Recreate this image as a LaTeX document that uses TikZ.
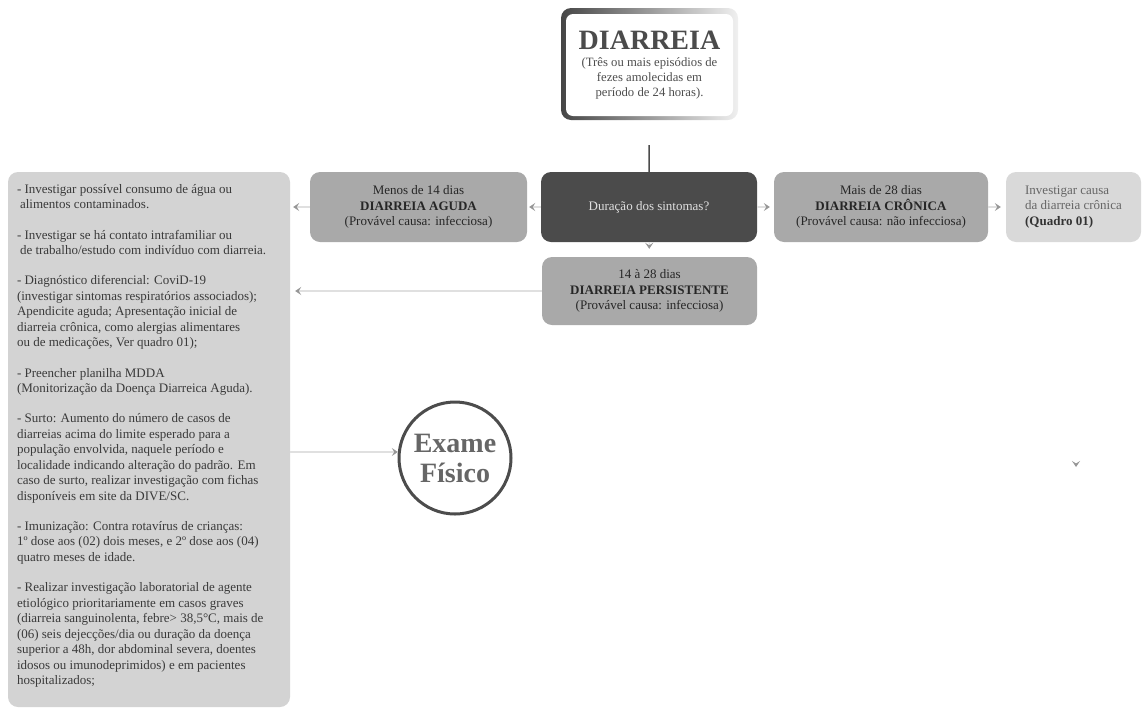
\documentclass[tikz,border=0pt]{standalone}
\usepackage{fontspec}
\setmainfont{Liberation Serif}
\usetikzlibrary{arrows.meta}

\definecolor{cinzaescuro}{HTML}{4B4B4B}
\definecolor{cinzamedio}{HTML}{A9A9A9}
\definecolor{cinzaclaro}{HTML}{D3D3D3}
\definecolor{cinzaquadro}{HTML}{D9D9D9}
\definecolor{cinzaseta}{HTML}{969696}
\definecolor{cinzalinha}{HTML}{E0E0E0}
\definecolor{cinzatexto}{HTML}{3A3A3A}

\begin{document}
\begin{tikzpicture}[x=1pt,y=-1pt,
	caixa/.style={rounded corners=10pt, minimum width=#1, minimum height=70pt, align=center, inner sep=2pt, font=\fontsize{13}{15.8}\selectfont},
	seta/.style={draw=cinzalinha, line width=1.3pt, -{Stealth[length=6pt, width=8pt, inset=2.5pt, color=cinzaseta]}}
]

	\useasboundingbox (0,0) rectangle (1142,710);

	\shade[left color=gray!55!black, right color=gray!12, rounded corners=10pt] (561,8) rectangle (738,120);
	\node[fill=white, rounded corners=7pt, minimum width=167pt, minimum height=102pt, align=center, text=cinzatexto!90, font=\fontsize{12.7}{14.8}\selectfont] (diarreia) at (649.5,65)
		{{\fontsize{28}{30}\selectfont\bfseries\color{cinzaescuro}DIARREIA}\\[3pt] (Três ou mais episódios de\\ fezes amolecidas em\\ período de 24 horas).};

	\node[caixa=216pt, fill=cinzaescuro, text=gray!25] (duracao) at (649,207) {Duração dos sintomas?};

	\node[caixa=217pt, fill=cinzamedio, text=black!85] (aguda) at (418.5,207)
		{Menos de 14 dias\\ \textbf{DIARREIA AGUDA}\\ (Provável causa: infecciosa)};

	\node[caixa=214pt, fill=cinzamedio, text=black!85] (cronica) at (881,207)
		{Mais de 28 dias\\ \textbf{DIARREIA CRÔNICA}\\ (Provável causa: não infecciosa)};

	\node[caixa=135pt, fill=cinzaquadro, text=black!60, align=left] (investigar) at (1073.5,207)
		{Investigar causa\\ da diarreia crônica\\ \textbf{\color{black!80}(Quadro 01)}};

	\node[caixa=215pt, minimum height=68pt, fill=cinzamedio, text=black!85] (persistente) at (649.5,291)
		{14 à 28 dias\\ \textbf{DIARREIA PERSISTENTE}\\ (Provável causa: infecciosa)};

	\node[fill=cinzaclaro, rounded corners=10pt, minimum width=282pt, minimum height=535pt, align=left, text=cinzatexto, font=\fontsize{13}{15.5}\selectfont] (orient) at (149,439.5)
		{\makebox[264pt][l]{- Investigar possível consumo de água ou}\\
		\hspace*{3pt}alimentos contaminados.\\[14.7pt]
		- Investigar se há contato intrafamiliar ou\\
		\hspace*{3pt}de trabalho/estudo com indivíduo com diarreia.\\[14.7pt]
		- Diagnóstico diferencial: CoviD-19\\
		(investigar sintomas respiratórios associados);\\
		Apendicite aguda; Apresentação inicial de\\
		diarreia crônica, como alergias alimentares\\
		ou de medicações, Ver quadro 01);\\[14.7pt]
		- Preencher planilha MDDA\\
		(Monitorização da Doença Diarreica Aguda).\\[14.7pt]
		- Surto: Aumento do número de casos de\\
		diarreias acima do limite esperado para a\\
		população envolvida, naquele período e\\
		localidade indicando alteração do padrão. Em\\
		caso de surto, realizar investigação com fichas\\
		disponíveis em site da DIVE/SC.\\[14.7pt]
		- Imunização: Contra rotavírus de crianças:\\
		1º dose aos (02) dois meses, e 2º dose aos (04)\\
		quatro meses de idade.\\[14.7pt]
		- Realizar investigação laboratorial de agente\\
		etiológico prioritariamente em casos graves\\
		(diarreia sanguinolenta, febre> 38,5°C, mais de\\
		(06) seis dejecções/dia ou duração da doença\\
		superior a 48h, dor abdominal severa, doentes\\
		idosos ou imunodeprimidos) e em pacientes\\
		hospitalizados;\rule[-10pt]{0pt}{10pt}};

	\node[circle, draw=gray!60!black, line width=3pt, fill=white, minimum size=112pt, align=center, text=cinzaescuro!85, font=\fontsize{28}{30}\selectfont\bfseries] (exame) at (455,458) {Exame\\ Físico};

	\coordinate (pontaA) at (1076,457);
	\coordinate (pontaB) at (1076,467);

	\draw[line width=1.5pt, draw=cinzaescuro, shorten <=29pt] (diarreia.south) -- (duracao.north);

	\draw[seta, shorten >=2pt] (duracao) -- (aguda);
	\draw[seta, shorten >=4pt] (duracao) -- (cronica);
	\draw[seta, shorten >=5pt] (cronica) -- (investigar);
	\draw[seta, shorten >=8pt] (duracao) -- (persistente);
	\draw[seta, shorten >=3pt] (aguda.west) -- (aguda.west -| orient.east);
	\draw[seta, shorten >=5pt] (persistente.west) -- (persistente.west -| orient.east);
	\draw[seta] (orient.east |- exame.174) -- (exame.174);
	\draw[seta, draw=white] (pontaA) -- (pontaB);

\end{tikzpicture}
\end{document}
